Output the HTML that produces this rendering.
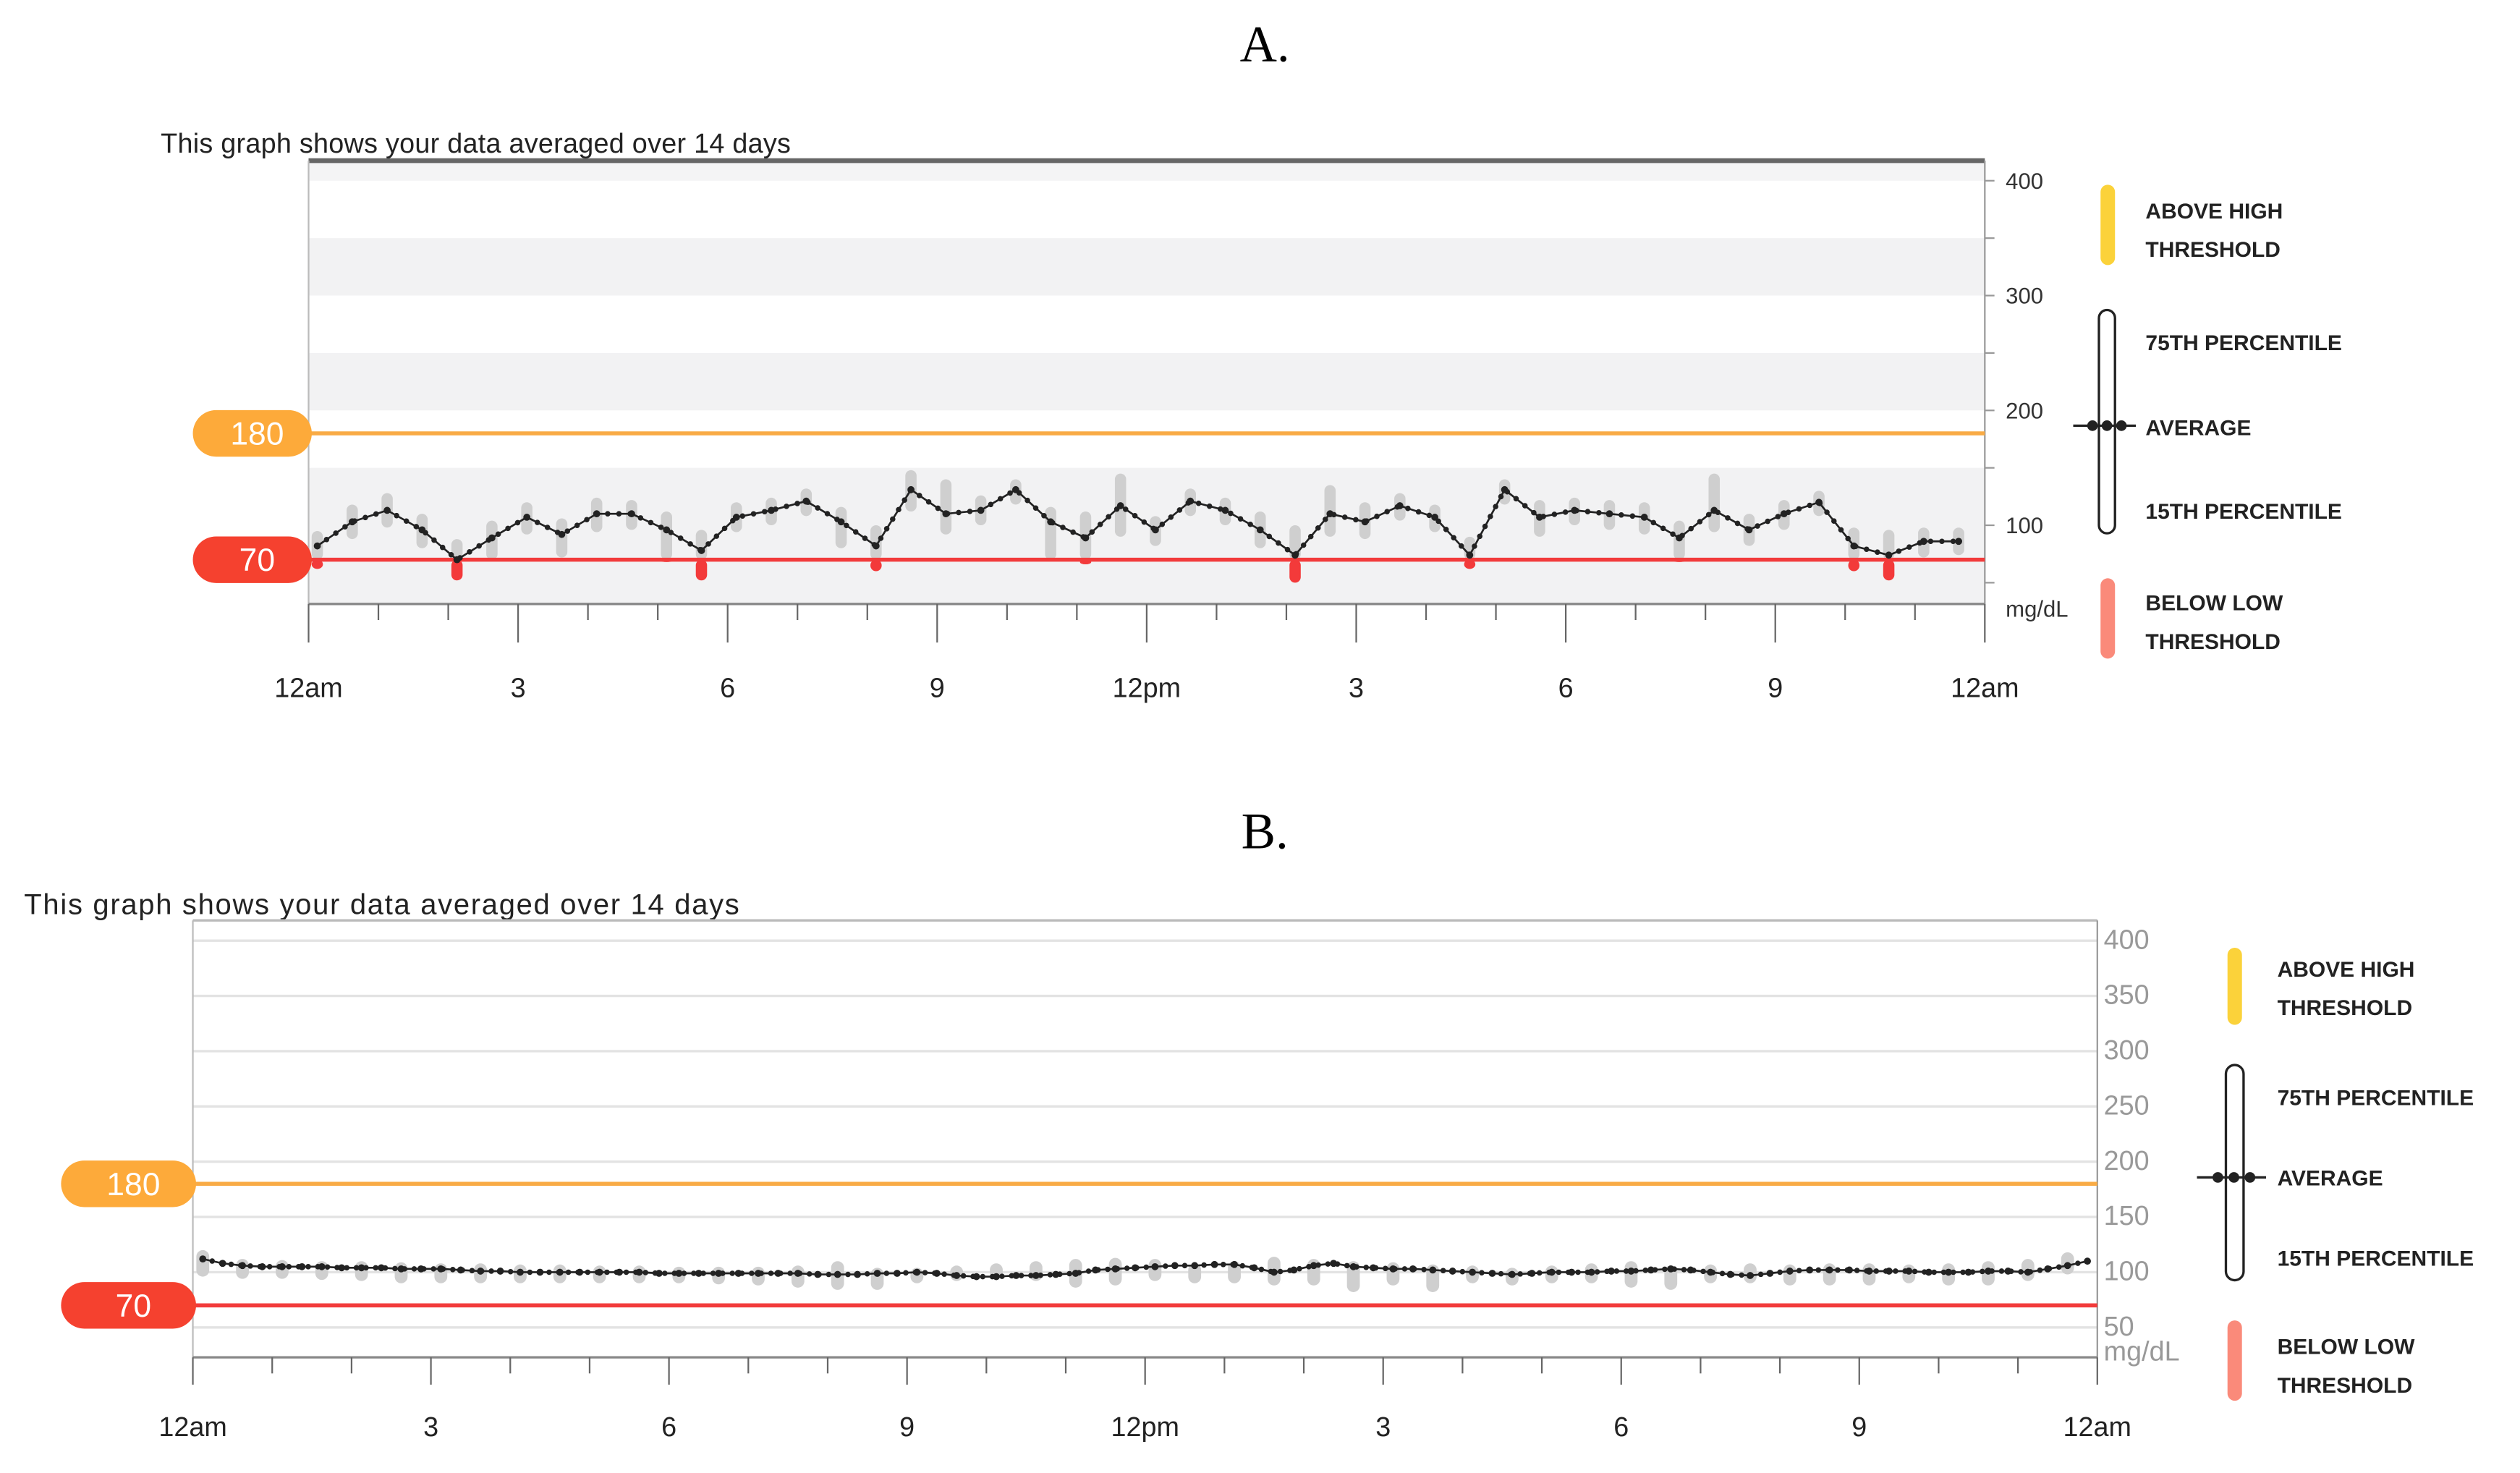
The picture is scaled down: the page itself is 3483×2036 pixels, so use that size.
<!DOCTYPE html>
<html><head><meta charset="utf-8"><style>
html,body{margin:0;padding:0;background:#fff;}
svg{display:block;}
text{font-family:"Liberation Sans",sans-serif;}
.leg{font-weight:bold;font-size:13.5px;fill:#222;}
</style></head><body>
<svg id="s" width="3483" height="2036" viewBox="0 0 1568 917" preserveAspectRatio="none" xmlns="http://www.w3.org/2000/svg">
<text x="787" y="38" text-anchor="middle" style="font-family:'Liberation Serif',serif;font-size:32px">A.</text>
<text x="787" y="528" text-anchor="middle" style="font-family:'Liberation Serif',serif;font-size:32px">B.</text>
<text x="100" y="95" style="font-size:17px;fill:#222" textLength="392">This graph shows your data averaged over 14 days</text>
<text x="15" y="569" style="font-size:18px;fill:#222" textLength="445">This graph shows your data averaged over 14 days</text>
<g id="ga"></g>
<g id="gb"></g>
<g>
<rect x="1307" y="115" width="9" height="50" rx="4.5" fill="#fbd23a"/>
<text class="leg" x="1335" y="136">ABOVE HIGH</text><text class="leg" x="1335" y="160">THRESHOLD</text>
<rect x="1306" y="193" width="10" height="139" rx="5" fill="#fff" stroke="#222" stroke-width="1.5"/>
<line x1="1290" y1="265" x2="1329" y2="265" stroke="#222" stroke-width="1.5"/>
<circle cx="1302" cy="265" r="3.3" fill="#222"/><circle cx="1311" cy="265" r="3.3" fill="#222"/><circle cx="1320" cy="265" r="3.3" fill="#222"/>
<text class="leg" x="1335" y="218">75TH PERCENTILE</text><text class="leg" x="1335" y="271">AVERAGE</text><text class="leg" x="1335" y="323">15TH PERCENTILE</text>
<rect x="1307" y="360" width="9" height="50" rx="4.5" fill="#fa8a7a"/>
<text class="leg" x="1335" y="380">BELOW LOW</text><text class="leg" x="1335" y="404">THRESHOLD</text>
</g>
<g>
<rect x="1386" y="590" width="9" height="48" rx="4.5" fill="#fbd23a"/>
<text class="leg" x="1417" y="608">ABOVE HIGH</text><text class="leg" x="1417" y="632">THRESHOLD</text>
<rect x="1385" y="663" width="11" height="134" rx="5.5" fill="#fff" stroke="#222" stroke-width="1.5"/>
<line x1="1367" y1="733" x2="1410" y2="733" stroke="#222" stroke-width="1.5"/>
<circle cx="1380" cy="733" r="3.3" fill="#222"/><circle cx="1390" cy="733" r="3.3" fill="#222"/><circle cx="1400" cy="733" r="3.3" fill="#222"/>
<text class="leg" x="1417" y="688">75TH PERCENTILE</text><text class="leg" x="1417" y="738">AVERAGE</text><text class="leg" x="1417" y="788">15TH PERCENTILE</text>
<rect x="1386" y="822" width="9" height="50" rx="4.5" fill="#fa8a7a"/>
<text class="leg" x="1417" y="843">BELOW LOW</text><text class="leg" x="1417" y="867">THRESHOLD</text>
</g>
</svg>
<script>
const xLabels = ["12am","3","6","9","12pm","3","6","9","12am"];
const avgA = [82,103,113,96,70,89,107,92,110,110,96,78,107,113,121,103,82,131,110,113,131,103,89,117,96,121,113,96,74,110,103,117,107,74,131,107,113,110,107,89,113,96,110,120,82,74,86,86];
const hiA = [95,118,128,110,88,104,120,106,124,122,112,96,120,124,132,116,100,148,140,126,140,116,112,145,108,132,124,112,100,135,120,128,118,90,140,122,124,122,120,104,145,110,122,130,98,96,98,98];
const loA = [62,88,98,80,52,70,92,72,94,96,68,52,94,100,108,80,60,112,92,100,118,70,66,90,82,108,100,80,50,90,88,104,94,62,118,90,100,96,92,68,94,82,96,108,60,52,72,74];
const ticksA = [100,200,300,400];
const avgB = [112,108,106,105,105,105,105,104,104,104,103,103,103,102,101,101,100,100,100,100,100,100,100,99,99,99,99,99,99,99,99,98,98,98,99,99,100,99,97,96,96,97,97,98,99,102,103,104,105,106,106,107,107,104,100,102,106,108,105,104,103,103,102,101,100,99,98,99,100,100,100,101,101,102,103,102,100,98,97,99,101,102,102,102,101,101,101,100,100,100,101,101,100,103,106,110];
const hiB = [120,112,111,110,110,109,108,108,107,107,106,106,105,105,105,106,110,104,104,106,108,110,112,113,112,108,110,114,112,110,109,107,106,104,106,108,110,106,107,108,107,108,108,107,108,110,112,118];
const loB = [96,94,94,93,92,90,90,90,90,90,90,90,90,89,88,86,84,84,90,92,94,92,86,88,92,90,90,88,88,82,88,82,90,88,90,90,86,84,90,90,88,88,88,90,88,88,92,98];
const ticksB = [50,100,150,200,250,300,350,400];
const NS="http://www.w3.org/2000/svg";
function mk(p,tag,at){const e=document.createElementNS(NS,tag);for(const k in at)e.setAttribute(k,at[k]);p.appendChild(e);return e;}

function draw(g,cfg,avg,hi,lo,ticks){
  const {x0,x1,top,bot,y100,ppu}=cfg;
  const y=v=>y100-(v-100)*ppu;
  const xh=h=>x0+(x1-x0)*h/24;
  if(cfg.bands){
    const tb=mk(g,'rect',{x:x0,y:top,width:x1-x0,height:y(400)-top,fill:'#f4f4f5'});
    
    
    for(let v=200;v<400;v+=100){
      const b=mk(g,'rect',{x:x0,y:y(v+50),width:x1-x0,height:y(v)-y(v+50),fill:'#f2f2f3'});
      
      
    }
    const b2=mk(g,'rect',{x:x0,y:y(150),width:x1-x0,height:bot-y(150),fill:'#f2f2f3'});
    
    
  } else {
    ticks.forEach(t=>{
      const l=mk(g,'line',{x1:x0,x2:x1,y1:y(t),y2:y(t),stroke:'#e3e3e3','stroke-width':1.5});
      
      
    });
  }
  mk(g,'line',{x1:x0,x2:x1,y1:top,y2:top,stroke:cfg.topColor,'stroke-width':cfg.topW});
  mk(g,'line',{x1:x0,x2:x0,y1:top,y2:bot,stroke:'#bbb','stroke-width':1});
  mk(g,'line',{x1:x1,x2:x1,y1:top,y2:bot,stroke:'#999','stroke-width':1});
  mk(g,'line',{x1:x0,x2:x1,y1:bot,y2:bot,stroke:'#888','stroke-width':1.5});
  ticks.forEach(t=>{
    const tx=mk(g,'text',{x:x1+cfg.lx,y:y(t)+5,'font-size':cfg.yfs,fill:cfg.yc});
    tx.textContent=t;
    
    
  });
  if(cfg.bands){for(let v=50;v<=400;v+=50)mk(g,'line',{x1:x1,x2:x1+6,y1:y(v),y2:y(v),stroke:'#999'});}
  const u=mk(g,'text',{x:x1+cfg.lx,y:cfg.unitY,'font-size':cfg.yfs,fill:cfg.yc});u.textContent='mg/dL';
  
  
  for(let h=0;h<=24;h++){
    const major=h%3===0;
    mk(g,'line',{x1:xh(h),x2:xh(h),y1:bot,y2:bot+(major?cfg.majT:cfg.minT),stroke:'#666','stroke-width':1});
  }
  xLabels.forEach((s,i)=>{
    const t=mk(g,'text',{x:xh(i*3),y:cfg.xlY,'text-anchor':'middle','font-size':17,fill:'#222'});t.textContent=s;
    
    
  });
  const bw=cfg.bw;
  const step=24/hi.length;
  hi.forEach((h,i)=>{
    const xc=xh((i+0.25)*step);
    const l=lo[i];
    const bar=mk(g,'rect',{x:xc-bw/2,y:y(h),width:bw,height:Math.max(0,y(Math.max(l,70))-y(h)),rx:bw/2,fill:'#cfcfcf'});
    
    
    if(l<70){
      const r=mk(g,'rect',{x:xc-bw/2,y:y(70),width:bw,height:y(l)-y(70),rx:bw/2,fill:'#f33a3a'});
      
      
    }
  });
  const lh=mk(g,'line',{x1:x0,x2:x1,y1:y(180),y2:y(180),stroke:'#f9ab45','stroke-width':2.5});
  
  
  const ll=mk(g,'line',{x1:x0,x2:x1,y1:y(70),y2:y(70),stroke:'#f23b3b','stroke-width':2.5});
  
  
  [[180,'#fdaa3a','high-threshold-badge'],[70,'#f5412f','low-threshold-badge']].forEach(([v,c,n])=>{
    const r=mk(g,'rect',{x:cfg.px,y:y(v)-14.5,width:x0-cfg.px+2,height:29,rx:14.5,fill:c});
    
    
    const t=mk(g,'text',{x:(cfg.px+x0)/2+4,y:y(v)+7,'text-anchor':'middle','font-size':20,fill:'#fff'});t.textContent=v;
  });
  const astep=24/avg.length;
  const pts=avg.map((v,i)=>[xh((i+0.25*avg.length/hi.length)*astep),y(v)]);
  const pl=mk(g,'polyline',{points:pts.map(p=>p.join(',')).join(' '),fill:'none',stroke:'#222','stroke-width':1.2});
  
  
  const pd=mk(g,'polyline',{points:pts.map(p=>p.join(',')).join(' '),fill:'none',stroke:'#222','stroke-width':3.4,'stroke-linecap':'round','stroke-dasharray':'0 '+cfg.dotGap});
  
  
  pts.forEach(p=>{
    const c=mk(g,'circle',{cx:p[0],cy:p[1],r:cfg.dr,fill:'#222'});
    
    
  });
}
draw(document.getElementById('ga'),{x0:192,x1:1235,top:100,bot:376,y100:327,ppu:0.715,bands:true,topColor:'#666',topW:3,lx:13,yfs:14,yc:'#333',unitY:384,majT:24,minT:10,xlY:434,bw:7,px:120,dr:2.2,dotGap:7},avgA,hiA,loA,ticksA);
draw(document.getElementById('gb'),{x0:120,x1:1305,top:573,bot:845,y100:792,ppu:0.688,bands:false,topColor:'#bbb',topW:1.5,lx:4,yfs:17,yc:'#999',unitY:847,majT:17,minT:10,xlY:894,bw:8,px:38,dr:2.2,dotGap:6},avgB,hiB,loB,ticksB);
</script>
</body></html>
